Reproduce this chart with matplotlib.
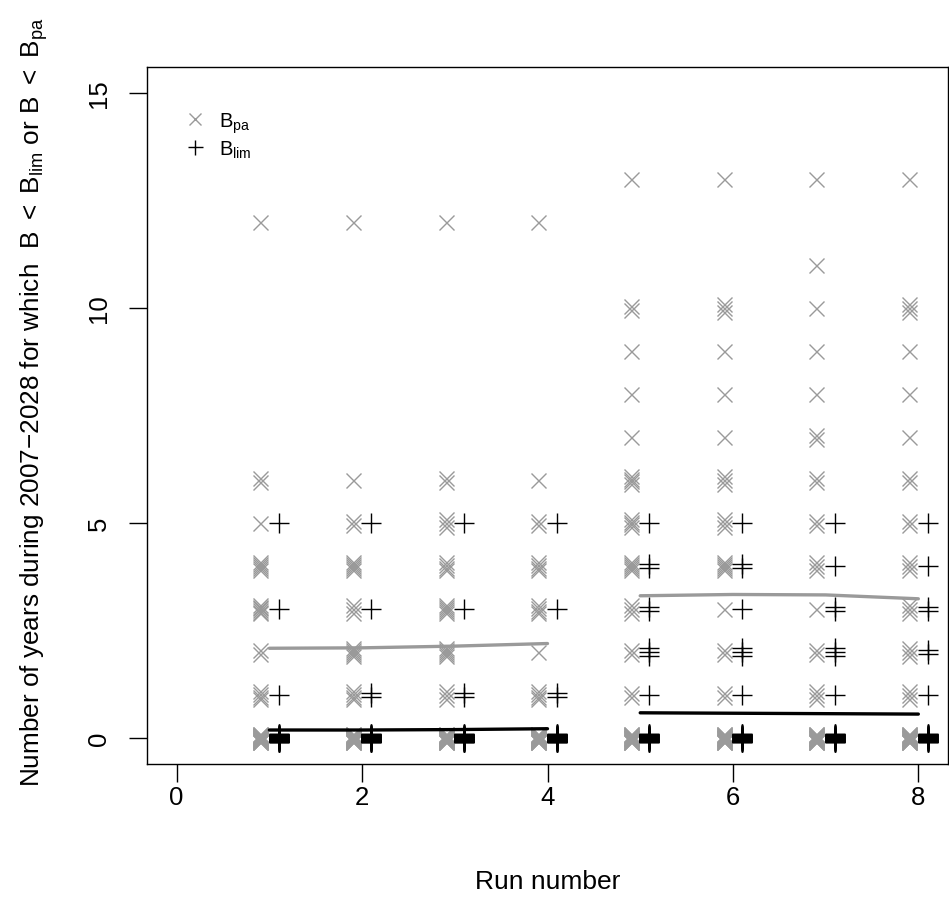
import matplotlib
import matplotlib.pyplot as plt
import numpy as np
from matplotlib.lines import Line2D

matplotlib.use("Agg")

plt.rcParams["font.family"] = ["Liberation Sans", "DejaVu Sans"]
plt.rcParams["mathtext.fontset"] = "custom"
plt.rcParams["mathtext.rm"] = "Liberation Sans"
plt.rcParams["mathtext.it"] = "Liberation Sans:italic"
plt.rcParams["mathtext.bf"] = "Liberation Sans:bold"

# Years below Bpa: distinct values per run and how many simulations gave each
runs = [1, 2, 3, 4, 5, 6, 7, 8]
bpa_values = [
    [12, 6, 5, 4, 3, 2, 1, 0],
    [12, 6, 5, 4, 3, 2, 1, 0],
    [12, 6, 5, 4, 3, 2, 1, 0],
    [12, 6, 5, 4, 3, 2, 1, 0],
    [13, 10, 9, 8, 7, 6, 5, 4, 3, 2, 1, 0],
    [13, 10, 9, 8, 7, 6, 5, 4, 3, 2, 1, 0],
    [13, 11, 10, 9, 8, 7, 6, 5, 4, 3, 2, 1, 0],
    [13, 10, 9, 8, 7, 6, 5, 4, 3, 2, 1, 0],
]
bpa_counts = [
    [1, 2, 1, 5, 6, 2, 4, 22],
    [1, 1, 2, 5, 3, 5, 4, 22],
    [1, 2, 3, 4, 5, 5, 3, 22],
    [1, 1, 2, 4, 4, 1, 4, 22],
    [1, 2, 1, 1, 1, 4, 4, 5, 3, 2, 2, 20],
    [1, 3, 1, 1, 1, 3, 3, 5, 1, 2, 2, 20],
    [1, 1, 1, 1, 1, 2, 2, 2, 3, 1, 2, 3, 20],
    [1, 3, 1, 1, 1, 2, 2, 3, 3, 3, 3, 20],
]

# Years below Blim
blim_values = [
    [5, 3, 1, 0],
    [5, 3, 1, 0],
    [5, 3, 1, 0],
    [5, 3, 1, 0],
    [5, 4, 3, 2, 1, 0],
    [5, 4, 3, 2, 1, 0],
    [5, 4, 3, 2, 1, 0],
    [5, 4, 3, 2, 1, 0],
]
blim_counts = [
    [1, 1, 1, 40],
    [1, 1, 2, 40],
    [1, 1, 2, 40],
    [1, 1, 2, 40],
    [1, 2, 2, 3, 1, 35],
    [1, 2, 1, 3, 1, 35],
    [1, 1, 2, 3, 1, 35],
    [1, 1, 2, 2, 1, 35],
]

# Mean lines
line_runs_a = [1, 2, 3, 4]
line_runs_b = [5, 6, 7, 8]
bpa_mean_a = [2.09, 2.10, 2.14, 2.20]
bpa_mean_b = [3.31, 3.34, 3.33, 3.24]
blim_mean_a = [0.19, 0.19, 0.20, 0.22]
blim_mean_b = [0.59, 0.58, 0.57, 0.56]

GREY = "#9a9a9a"


def spread(values, counts):
    """Expand value/count pairs, with a small vertical jitter so piles show."""
    ys = []
    for v, n in zip(values, counts):
        half = min(0.1, 0.045 * (n - 1))
        ys.extend(v + np.linspace(-half, half, n))
    return np.array(ys)


fig = plt.figure(figsize=(9.49, 9.04), dpi=100)
ax = fig.add_axes([147 / 949, 1 - 765 / 904, 801 / 949, 697 / 904])

for run, vals, cnts in zip(runs, bpa_values, bpa_counts):
    ys = spread(vals, cnts)
    ax.plot(np.full(len(ys), run - 0.1), ys, ls="none", marker="x", ms=10.8,
            mew=1.0, color=GREY)

for run, vals, cnts in zip(runs, blim_values, blim_counts):
    ys = spread(vals, cnts)
    ax.plot(np.full(len(ys), run + 0.1), ys, ls="none", marker="+", ms=14.4,
            mew=1.0, color="black")

ax.plot(line_runs_a, bpa_mean_a, color=GREY, lw=2.4, solid_capstyle="round")
ax.plot(line_runs_b, bpa_mean_b, color=GREY, lw=2.4, solid_capstyle="round")
ax.plot(line_runs_a, blim_mean_a, color="black", lw=2.4, solid_capstyle="round")
ax.plot(line_runs_b, blim_mean_b, color="black", lw=2.4, solid_capstyle="round")

ax.set_xlim(-0.32, 8.32)
ax.set_ylim(-0.6, 15.6)
ax.set_xticks([0, 2, 4, 6, 8])
ax.set_yticks([0, 5, 10, 15])
ax.tick_params(axis="both", direction="out", length=13, width=1.0,
               labelsize=18.5)
ax.tick_params(axis="x", pad=2)
ax.tick_params(axis="y", pad=13, labelrotation=90)
for lab in ax.get_yticklabels():
    lab.set_va("center")
for sp in ax.spines.values():
    sp.set_linewidth(1.0)

ax.set_xlabel("Run number", fontsize=19, labelpad=43)
ax.set_ylabel("Number of years during 2007\u22122028 for which  "
              r"B $<$ B$_{\mathrm{lim}}$ or B $<$ B$_{\mathrm{pa}}$",
              fontsize=18.8)
ax.yaxis.set_label_coords(-97 / 801, 0.52)

handles = [
    Line2D([], [], ls="none", marker="x", ms=8.6, mew=1.0, color=GREY),
    Line2D([], [], ls="none", marker="+", ms=10.8, mew=1.0, color="black"),
]
ax.legend(handles, [r"B$_{\mathrm{pa}}$", r"B$_{\mathrm{lim}}$"],
          loc="upper left", bbox_to_anchor=(38 / 801, 1 - 43 / 697),
          frameon=False, fontsize=14.5, handlelength=1.0, handletextpad=0.7,
          labelspacing=0.2, borderpad=0, borderaxespad=0)

fig.savefig("out.png", dpi=100)
